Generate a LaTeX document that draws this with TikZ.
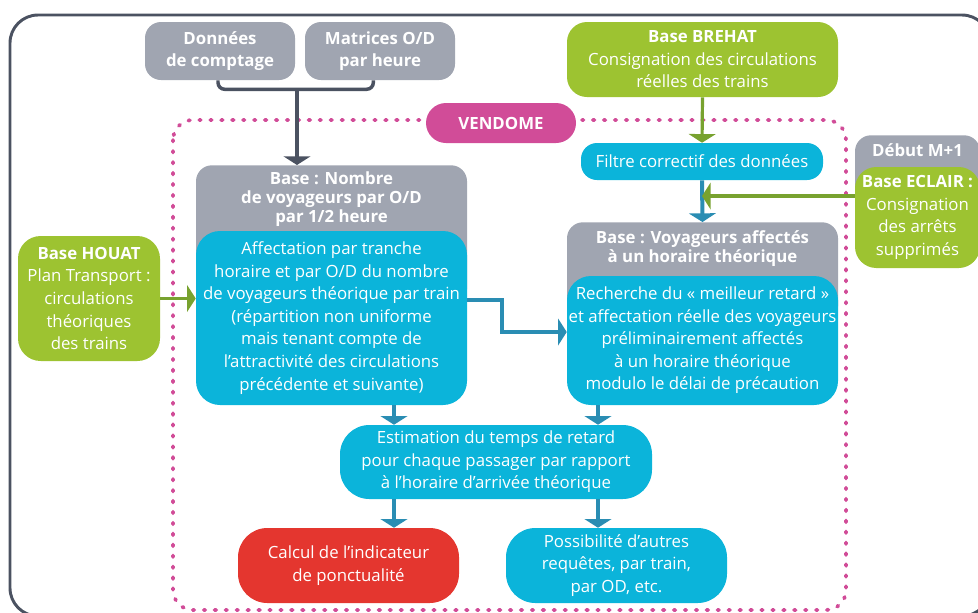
\documentclass[tikz,border=0pt]{standalone}
\usepackage{fontspec}
\setmainfont{Open Sans}
\usetikzlibrary{arrows.meta}
\usetikzlibrary{calc}

\definecolor{boxgray}{HTML}{A0A5B1}
\definecolor{linegray}{HTML}{4B5261}
\definecolor{boxblue}{HTML}{0BB4DA}
\definecolor{arrowblue}{HTML}{2A8DB3}
\definecolor{boxgreen}{HTML}{9DC331}
\definecolor{arrowgreen}{HTML}{78A22F}
\definecolor{pinkvendome}{HTML}{D14C98}
\definecolor{boxred}{HTML}{E4362F}

\newdimen\pxu
\pxu=0.75pt
\newcommand{\drawflow}[1]{\draw[#1, -{Triangle[width=20pt, length=6.5pt]}]}

\tikzset{
    panel/.style={rectangle, rounded corners=12pt, text=white, align=center, inner sep=0pt,
        font=\fontsize{12.6}{16.9}\selectfont},
    title/.style={text=white, align=center, inner sep=0pt,
        font=\fontsize{12.6}{14.3}\selectfont\bfseries},
    bluelink/.style={arrowblue, line width=3pt},
    greenlink/.style={arrowgreen, line width=2.4pt},
    darklink/.style={linegray, line width=2.6pt},
}

\begin{document}
\begin{tikzpicture}[x=0.75pt, y=-0.75pt]
    \useasboundingbox (0,0) rectangle (978,612);
    \clip (0,0) rectangle (978,612);

    % Draw frames
    \draw[linegray, line width=2.2pt, rounded corners=21pt] (10,15) rectangle (990,616);
    \draw[pinkvendome, line width=2.8pt, line cap=round, dash pattern=on 1.2pt off 7pt,
        rounded corners=15pt] (173,120) rectangle (846,610);
    \node[panel, fill=pinkvendome, rounded corners=15pt, minimum width=150\pxu, minimum height=40\pxu,
        font=\fontsize{12.6}{16.9}\selectfont\bfseries] (vendome) at (501,123) {VENDOME};

    % Draw input boxes
    \node[panel, fill=boxgray, minimum width=150\pxu, minimum height=58\pxu,
        font=\fontsize{12.6}{16.9}\selectfont\bfseries] (donnees) at (220,51) {Données\\de comptage};
    \node[panel, fill=boxgray, minimum width=150\pxu, minimum height=58\pxu,
        font=\fontsize{12.6}{16.9}\selectfont\bfseries] (matrices) at (380,51) {Matrices O/D\\par heure};
    \node[panel, fill=boxgreen, rounded corners=17pt, minimum width=142\pxu, minimum height=125\pxu]
        (houat) at (89,298.5) {{\bfseries Base HOUAT}\\Plan Transport :\\circulations\\théoriques\\des trains};
    \node[panel, fill=boxgreen, rounded corners=15pt, minimum width=271\pxu, minimum height=75\pxu]
        (brehat) at (702.5,59.5) {{\bfseries Base BREHAT}\\Consignation des circulations\\réelles des trains};
    \node[panel, fill=boxgray, minimum width=125\pxu, minimum height=80\pxu, anchor=north]
        (eclairbase) at (917.5,135) {};
    \node[title] (eclairtitle) at (917.5,150) {Début M+1};
    \node[panel, fill=boxgreen, rounded corners=16pt, minimum width=125\pxu, minimum height=101\pxu]
        (eclairbody) at (917.5,217.5) {{\bfseries Base ECLAIR :}\\Consignation\\des arrêts\\supprimés};

    % Draw processing boxes
    \node[panel, fill=boxgray, minimum width=271\pxu, minimum height=140\pxu, anchor=north]
        (nombrebase) at (331.5,165) {};
    \node[title] (nombretitle) at (331.5,199) {Base : Nombre\\de voyageurs par O/D\\par 1/2 heure};
    \node[panel, fill=boxblue, rounded corners=18pt, minimum width=271\pxu, minimum height=174\pxu]
        (nombrebody) at (331.5,318) {Affectation par tranche\\horaire et par O/D du nombre\\de voyageurs théorique par train\\(répartition non uniforme\\mais tenant compte de\\l’attractivité des circulations\\précédente et suivante)};
    \node[panel, fill=boxblue, minimum width=242\pxu, minimum height=37\pxu]
        (filtre) at (702,161.5) {Filtre correctif des données};
    \node[panel, fill=boxgray, minimum width=271\pxu, minimum height=100\pxu, anchor=north]
        (voyagbase) at (702.5,222) {};
    \node[title] (voyagtitle) at (702.5,249) {Base : Voyageurs affectés\\à un horaire théorique};
    \node[panel, fill=boxblue, rounded corners=18pt, minimum width=271\pxu, minimum height=129\pxu]
        (voyagbody) at (702.5,340.5) {Recherche du «~meilleur retard~»\\et affectation réelle des voyageurs\\préliminairement affectés\\à un horaire théorique\\modulo le délai de précaution};
    \node[panel, fill=boxblue, rounded corners=22pt, minimum width=312\pxu, minimum height=74\pxu]
        (estimation) at (496,462) {Estimation du temps de retard\\pour chaque passager par rapport\\à l’horaire d’arrivée théorique};

    % Draw results
    \node[panel, fill=boxred, rounded corners=22pt, minimum width=221\pxu, minimum height=75\pxu]
        (calcul) at (348.5,565.5) {Calcul de l’indicateur\\de ponctualité};
    \node[panel, fill=boxblue, rounded corners=22pt, minimum width=221\pxu, minimum height=75\pxu]
        (requetes) at (616.5,565.5) {Possibilité d’autres\\requêtes, par train,\\par OD, etc.};

    % Draw arrows
    \coordinate (colA) at (394,0);
    \coordinate (colB) at (598,0);
    \coordinate (merge) at (702,196);
    \draw[darklink, rounded corners=5pt] ([xshift=-1.5pt]donnees.south) -- ++(0,9) -| ([xshift=-5pt]matrices.south);
    \coordinate (join) at (297,89);
    \drawflow{darklink} (join) -- (join |- nombrebase.north);
    \drawflow{greenlink} (houat.east) -- (houat.east -| nombrebody.west);
    \drawflow{greenlink} (brehat.south) -- (filtre.north);
    \drawflow{bluelink} (filtre.south) -- (voyagbase.north);
    \drawflow{greenlink} (merge -| eclairbody.west) -- (merge);
    \drawflow{bluelink} ($(nombrebody.east)+(0,-18)$) -- ++(35,0) |- ($(voyagbody.west)+(0,-8.5)$);
    \drawflow{bluelink} (colA |- nombrebody.south) -- (colA |- estimation.north);
    \drawflow{bluelink} (colB |- voyagbody.south) -- (colB |- estimation.north);
    \drawflow{bluelink} (colA |- estimation.south) -- (colA |- calcul.north);
    \drawflow{bluelink} (colB |- estimation.south) -- (colB |- requetes.north);
\end{tikzpicture}
\end{document}
